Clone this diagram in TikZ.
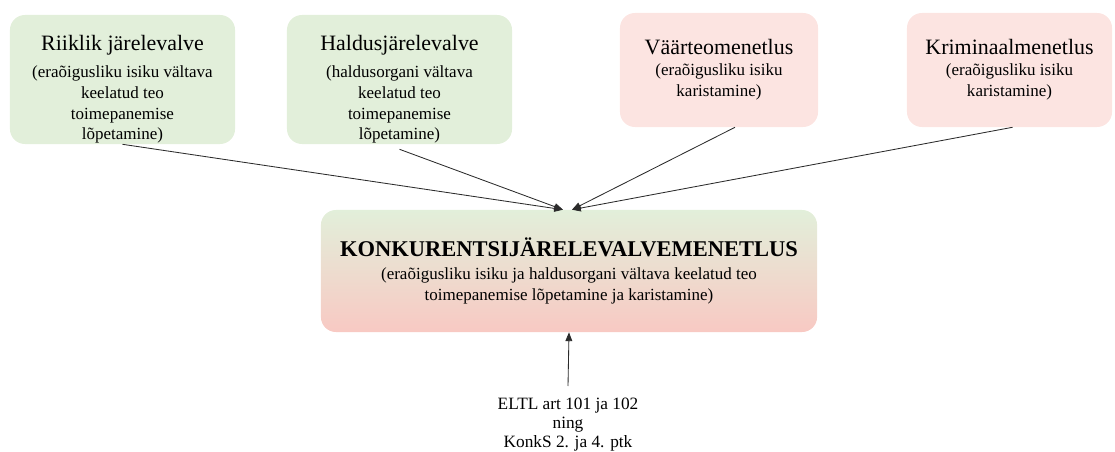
\documentclass[tikz,border=0pt]{standalone}
\usepackage{fontspec}
\setmainfont{Liberation Serif}
\usepackage{xcolor}
\definecolor{lineDark}{HTML}{2B2B2B}
\definecolor{greenBg}{HTML}{E2EFDA}
\definecolor{pinkBg}{HTML}{FCE4E1}
\definecolor{pinkDeep}{HTML}{F8C9C3}
\usepackage{tikz}
\usetikzlibrary{positioning,calc,arrows.meta}
\newcommand{\boxTitle}[1]{{\fontsize{15.6pt}{18pt}\selectfont #1}}
\newcommand{\lowTitle}[1]{\boxTitle{\rule{0pt}{25pt}#1}\\[4pt]}
\tikzset{%
  baseBox/.style={%
    rectangle,
    rounded corners=0.375cm,
    inner sep=0pt,
    align=center,
    font=\fontsize{12.1pt}{14.9pt}\selectfont
  },
  controlBox/.style={%
    baseBox,
    fill=greenBg,
    minimum width=5.625cm,
    minimum height=3.225cm
  },
  penaltyBox/.style={%
    baseBox,
    fill=pinkBg,
    minimum height=2.85cm
  },
  mergeBox/.style={%
    baseBox,
    top color=greenBg,
    middle color=greenBg!70!pinkBg,
    bottom color=pinkDeep,
    minimum width=12.4cm,
    minimum height=3.05cm
  },
  sourceText/.style={%
    align=center,
    inner xsep=2pt,
    inner ysep=8pt,
    font=\fontsize{12.3pt}{13.8pt}\selectfont
  },
  arrowLine/.style={%
    -{Triangle[length=2.2mm,width=1.7mm]},
    line width=0.6pt,
    color=lineDark
  }
}

\begin{document}
\begin{tikzpicture}[x=0.025cm,y=-0.025cm]
            \useasboundingbox (0,0) rectangle (1115,452);

            \node[controlBox] (riiklik) at (122.5,79.5) {\lowTitle{Riiklik järelevalve}(eraõigusliku isiku vältava\\keelatud teo\\toimepanemise\\lõpetamine)};
            \node[controlBox] (haldus) at (399.5,79.5) {\lowTitle{Haldusjärelevalve}(haldusorgani vältava\\keelatud teo\\toimepanemise\\lõpetamine)};
            \node[penaltyBox, minimum width=4.95cm] (vaarteo) at (719,70) {\boxTitle{Väärteomenetlus}\\(eraõigusliku isiku\\karistamine)};
            \node[penaltyBox, minimum width=5.125cm] (krimi) at (1009.5,70) {\boxTitle{Kriminaalmenetlus}\\(eraõigusliku isiku\\karistamine)};

            \node[mergeBox] (konkurents) at (569,271) {{\fontsize{16pt}{18pt}\selectfont\bfseries KONKURENTSIJÄRELEVALVEMENETLUS}\\[1pt](eraõigusliku isiku ja haldusorgani vältava keelatud teo\\toimepanemise lõpetamine ja karistamine)};

            \node[sourceText, anchor=north] (alus) at (568,386) {ELTL art 101 ja 102\\ning\\KonkS 2. ja 4. ptk};

            \coordinate (inLeft) at ($(konkurents.north)+(-6,0)$);
            \coordinate (inRight) at ($(konkurents.north)+(3,0)$);

            \draw[arrowLine] (riiklik.south) -- (inLeft);
            \draw[arrowLine] ($(haldus.south)+(0,5)$) -- (inLeft);
            \draw[arrowLine] ($(vaarteo.south)+(16,0)$) -- (inRight);
            \draw[arrowLine] ($(krimi.south)+(3,0)$) -- (inRight);
            \draw[arrowLine] (alus.north) -- (konkurents.south);
        \end{tikzpicture}
\end{document}
